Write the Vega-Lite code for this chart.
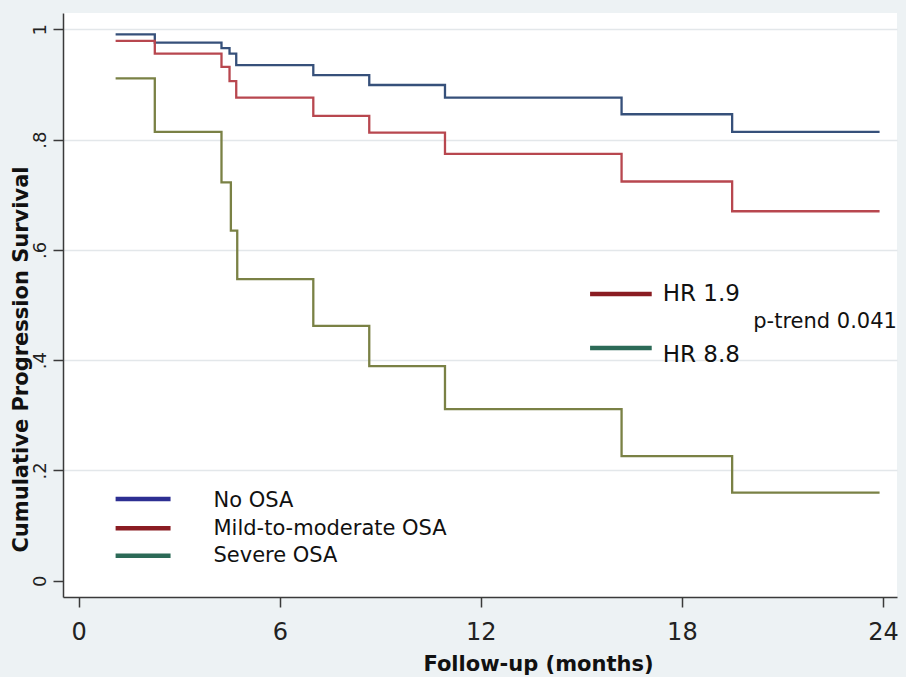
{
  "$schema": "https://vega.github.io/schema/vega-lite/v6.json",
  "width": 834,
  "height": 584,
  "autosize": {"type": "none"},
  "padding": {"left": 63, "top": 13, "right": 9, "bottom": 80},
  "background": "#edf2f4",
  "view": {"fill": "#ffffff", "stroke": null},
  "config": {"font": "DejaVu Sans"},
  "layer": [
    {
      "data": {
        "values": [
          {"group": "No OSA", "month": 1.1, "survival": 0.991},
          {"group": "No OSA", "month": 2.27, "survival": 0.976},
          {"group": "No OSA", "month": 4.26, "survival": 0.966},
          {"group": "No OSA", "month": 4.5, "survival": 0.956},
          {"group": "No OSA", "month": 4.7, "survival": 0.935},
          {"group": "No OSA", "month": 7.0, "survival": 0.917},
          {"group": "No OSA", "month": 8.67, "survival": 0.899},
          {"group": "No OSA", "month": 10.93, "survival": 0.876},
          {"group": "No OSA", "month": 16.2, "survival": 0.846},
          {"group": "No OSA", "month": 19.5, "survival": 0.814},
          {"group": "No OSA", "month": 23.9, "survival": 0.814},
          {"group": "Mild-to-moderate OSA", "month": 1.1, "survival": 0.979},
          {"group": "Mild-to-moderate OSA", "month": 2.27, "survival": 0.956},
          {"group": "Mild-to-moderate OSA", "month": 4.26, "survival": 0.932},
          {"group": "Mild-to-moderate OSA", "month": 4.5, "survival": 0.906},
          {"group": "Mild-to-moderate OSA", "month": 4.7, "survival": 0.876},
          {"group": "Mild-to-moderate OSA", "month": 7.0, "survival": 0.843},
          {"group": "Mild-to-moderate OSA", "month": 8.67, "survival": 0.8125},
          {"group": "Mild-to-moderate OSA", "month": 10.93, "survival": 0.774},
          {"group": "Mild-to-moderate OSA", "month": 16.2, "survival": 0.724},
          {"group": "Mild-to-moderate OSA", "month": 19.5, "survival": 0.670},
          {"group": "Mild-to-moderate OSA", "month": 23.9, "survival": 0.670},
          {"group": "Severe OSA", "month": 1.1, "survival": 0.911},
          {"group": "Severe OSA", "month": 2.27, "survival": 0.814},
          {"group": "Severe OSA", "month": 4.26, "survival": 0.7225},
          {"group": "Severe OSA", "month": 4.54, "survival": 0.635},
          {"group": "Severe OSA", "month": 4.73, "survival": 0.547},
          {"group": "Severe OSA", "month": 7.0, "survival": 0.462},
          {"group": "Severe OSA", "month": 8.67, "survival": 0.389},
          {"group": "Severe OSA", "month": 10.93, "survival": 0.311},
          {"group": "Severe OSA", "month": 16.2, "survival": 0.226},
          {"group": "Severe OSA", "month": 19.5, "survival": 0.1596},
          {"group": "Severe OSA", "month": 23.9, "survival": 0.1596}
        ]
      },
      "mark": {"type": "line", "interpolate": "step-after", "strokeWidth": 2.3},
      "encoding": {
        "x": {
          "field": "month",
          "type": "quantitative",
          "scale": {"domain": [-0.47, 24.42], "nice": false, "zero": false},
          "axis": {
            "values": [0, 6, 12, 18, 24],
            "title": "Follow-up (months)",
            "titleFontWeight": "bold",
            "titleFontSize": 21,
            "titleX": 475,
            "titleY": 73,
            "titleAlign": "center",
            "titleBaseline": "alphabetic",
            "titleColor": "#111111",
            "labelFontSize": 24,
            "labelPadding": 13,
            "labelFlush": false,
            "labelColor": "#222222",
            "tickSize": 10,
            "tickWidth": 1.5,
            "tickColor": "#3a3a3a",
            "domainColor": "#3a3a3a",
            "domainWidth": 1.5,
            "grid": false
          }
        },
        "y": {
          "field": "survival",
          "type": "quantitative",
          "scale": {"domain": [-0.0296, 1.0296], "nice": false, "zero": false},
          "axis": {
            "values": [0, 0.2, 0.4, 0.6, 0.8, 1],
            "labelExpr": "datum.value == 0 ? '0' : datum.value == 1 ? '1' : '.' + format(datum.value * 10, 'd')",
            "labelAngle": -90,
            "labelAlign": "center",
            "labelBaseline": "alphabetic",
            "labelPadding": 8,
            "labelFontSize": 18,
            "labelFlush": false,
            "labelColor": "#222222",
            "tickSize": 10,
            "tickWidth": 1.5,
            "tickColor": "#3a3a3a",
            "domainColor": "#3a3a3a",
            "domainWidth": 1.5,
            "grid": true,
            "gridColor": "#e3e7ea",
            "gridWidth": 1.5,
            "gridOpacity": {"condition": {"test": "datum.value == 0", "value": 0}, "value": 1},
            "title": "Cumulative Progression Survival",
            "titleAngle": -90,
            "titleX": -36,
            "titleY": 346,
            "titleAlign": "center",
            "titleBaseline": "alphabetic",
            "titleFontSize": 21,
            "titleFontWeight": "bold",
            "titleColor": "#111111"
          }
        },
        "color": {
          "field": "group",
          "type": "nominal",
          "scale": {
            "domain": ["No OSA", "Mild-to-moderate OSA", "Severe OSA"],
            "range": ["#36507a", "#b8474f", "#7a8145"]
          },
          "legend": null
        }
      }
    },
    {
      "data": {"values": [{}]},
      "mark": {"type": "rule", "strokeWidth": 4.5, "color": "#2d2f92"},
      "encoding": {"x": {"datum": 1.1}, "x2": {"datum": 2.74}, "y": {"datum": 0.148}}
    },
    {
      "data": {"values": [{}]},
      "mark": {"type": "rule", "strokeWidth": 4.5, "color": "#8a1c22"},
      "encoding": {"x": {"datum": 1.1}, "x2": {"datum": 2.74}, "y": {"datum": 0.095}}
    },
    {
      "data": {"values": [{}]},
      "mark": {"type": "rule", "strokeWidth": 4.5, "color": "#2c6a57"},
      "encoding": {"x": {"datum": 1.1}, "x2": {"datum": 2.74}, "y": {"datum": 0.045}}
    },
    {
      "data": {"values": [{}]},
      "mark": {"type": "text", "text": "No OSA", "fontSize": 21, "align": "left", "baseline": "alphabetic", "color": "#111111"},
      "encoding": {"x": {"datum": 4.02}, "y": {"datum": 0.1331}}
    },
    {
      "data": {"values": [{}]},
      "mark": {"type": "text", "text": "Mild-to-moderate OSA", "fontSize": 21, "align": "left", "baseline": "alphabetic", "color": "#111111"},
      "encoding": {"x": {"datum": 4.02}, "y": {"datum": 0.0829}}
    },
    {
      "data": {"values": [{}]},
      "mark": {"type": "text", "text": "Severe OSA", "fontSize": 21, "align": "left", "baseline": "alphabetic", "color": "#111111"},
      "encoding": {"x": {"datum": 4.02}, "y": {"datum": 0.0345}}
    },
    {
      "data": {"values": [{}]},
      "mark": {"type": "rule", "strokeWidth": 4.5, "color": "#8a1c22"},
      "encoding": {"x": {"datum": 15.26}, "x2": {"datum": 17.1}, "y": {"datum": 0.52}}
    },
    {
      "data": {"values": [{}]},
      "mark": {"type": "rule", "strokeWidth": 4.5, "color": "#2c6a57"},
      "encoding": {"x": {"datum": 15.26}, "x2": {"datum": 17.1}, "y": {"datum": 0.4218}}
    },
    {
      "data": {"values": [{}]},
      "mark": {"type": "text", "text": "HR 1.9", "fontSize": 23, "align": "left", "baseline": "alphabetic", "color": "#111111"},
      "encoding": {"x": {"datum": 17.43}, "y": {"datum": 0.5078}}
    },
    {
      "data": {"values": [{}]},
      "mark": {"type": "text", "text": "HR 8.8", "fontSize": 23, "align": "left", "baseline": "alphabetic", "color": "#111111"},
      "encoding": {"x": {"datum": 17.43}, "y": {"datum": 0.3972}}
    },
    {
      "data": {"values": [{}]},
      "mark": {"type": "text", "text": "p-trend 0.041", "fontSize": 21, "align": "left", "baseline": "alphabetic", "color": "#111111"},
      "encoding": {"x": {"datum": 20.13}, "y": {"datum": 0.4577}}
    }
  ]
}
